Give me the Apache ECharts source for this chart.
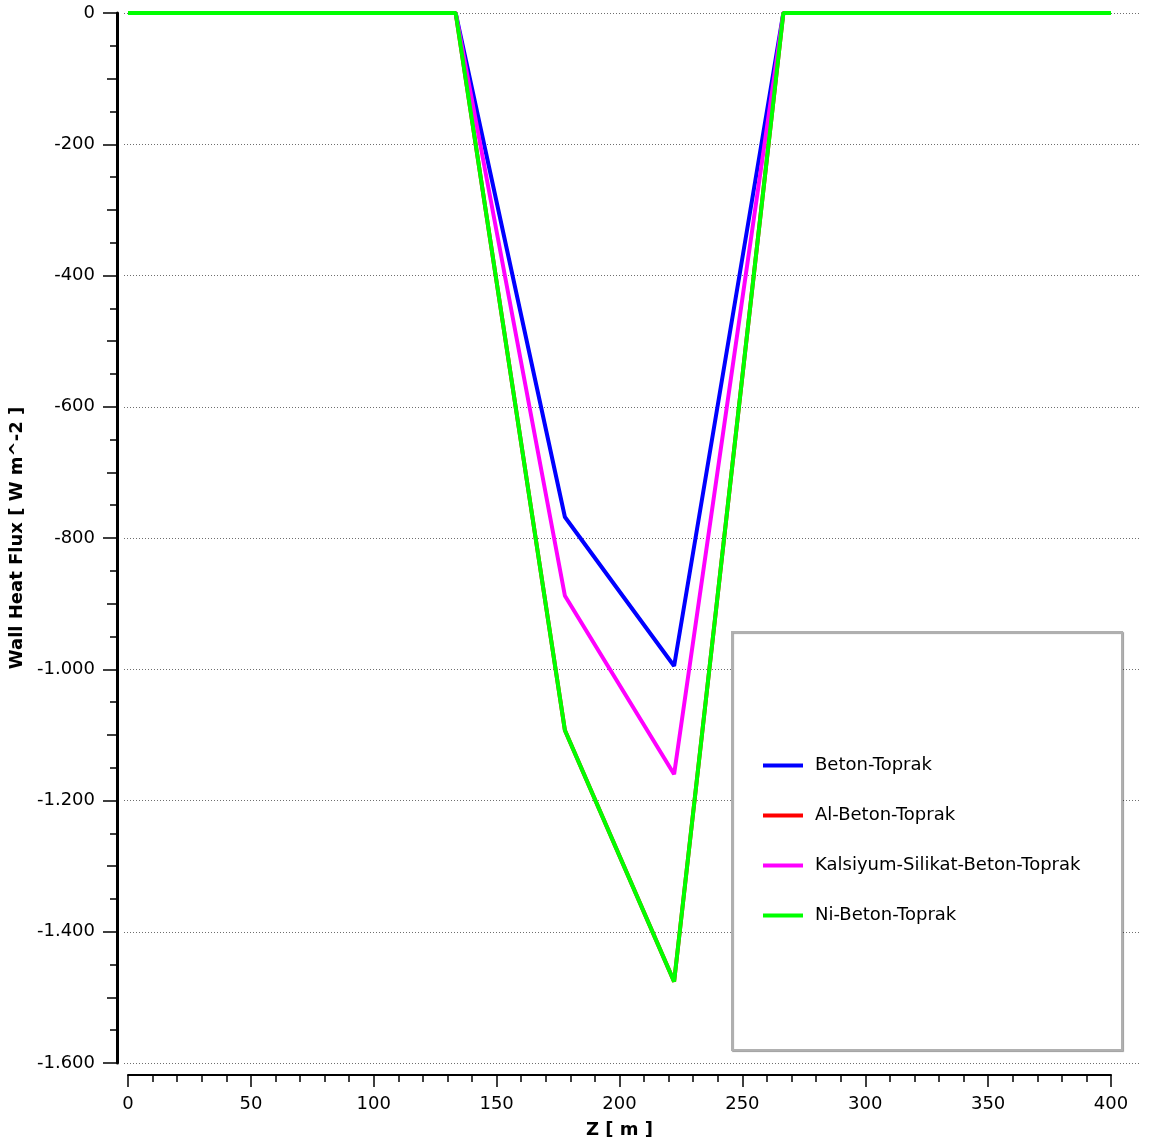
<!DOCTYPE html>
<html>
<head>
<meta charset="utf-8">
<title>Wall Heat Flux</title>
<script src="https://cdn.jsdelivr.net/npm/echarts@6/dist/echarts.min.js"></script>
<style>
  html, body { margin: 0; padding: 0; background: #ffffff; }
  #chart { width: 1154px; height: 1147px; }
</style>
</head>
<body>
<div id="chart"></div>
<script>
// Axial positions along the pipe (m)
const zPositions = [0, 44.44, 88.89, 133.33, 177.78, 222.22, 266.67, 311.11, 355.56, 400];

// Wall heat flux (W m^-2) for each wall build-up
const betonToprak = [0, 0, 0, 0, -768, -995, 0, 0, 0, 0];
const alBetonToprak = [0, 0, 0, 0, -1093, -1476, 0, 0, 0, 0];
const kalsiyumSilikatBetonToprak = [0, 0, 0, 0, -888, -1160, 0, 0, 0, 0];
const niBetonToprak = [0, 0, 0, 0, -1093, -1476, 0, 0, 0, 0];

const seriesNames = ['Beton-Toprak', 'Al-Beton-Toprak', 'Kalsiyum-Silikat-Beton-Toprak', 'Ni-Beton-Toprak'];
const seriesColors = ['#0000ff', '#ff0000', '#ff00ff', '#00ff00'];
const seriesValues = [betonToprak, alBetonToprak, kalsiyumSilikatBetonToprak, niBetonToprak];

const FONT = 'DejaVu Sans';

// Thousands separated with a dot, e.g. -1.600
function fmtThousands(v) {
  const s = Math.abs(v).toString().replace(/\B(?=(\d{3})+(?!\d))/g, '.');
  return (v < 0 ? '-' : '') + s;
}

const chart = echarts.init(document.getElementById('chart'), null, { renderer: 'canvas' });

const series = seriesNames.map((name, i) => ({
  name: name,
  type: 'line',
  xAxisIndex: 0,
  yAxisIndex: 0,
  data: zPositions.map((z, k) => [z, seriesValues[i][k]]),
  symbol: 'none',
  lineStyle: { color: seriesColors[i], width: 4 },
  itemStyle: { color: seriesColors[i] },
  z: 5 + i,
  animation: false
}));

const option = {
  animation: false,
  backgroundColor: '#ffffff',
  textStyle: { fontFamily: FONT },
  grid: [
    { left: 128, right: 43, top: 13, bottom: 84, containLabel: false },
    // wider band carrying the dotted horizontal guides
    { left: 124, right: 14, top: 13, bottom: 84, containLabel: false }
  ],
  xAxis: [
    {
      type: 'value', gridIndex: 0, min: 0, max: 400, interval: 50,
      position: 'bottom',
      offset: 12,
      name: 'Z [ m ]', nameLocation: 'middle', nameGap: 46,
      nameTextStyle: { fontFamily: FONT, fontSize: 18, fontWeight: 'bold', color: '#000' },
      axisLine: { show: true, onZero: false, lineStyle: { color: '#000', width: 2 } },
      axisTick: { show: true, length: 12, lineStyle: { color: '#000', width: 1.5 } },
      minorTick: { show: true, splitNumber: 5, length: 7, lineStyle: { color: '#000', width: 1.5 } },
      axisLabel: { fontFamily: FONT, fontSize: 18, color: '#000', margin: 20 },
      splitLine: { show: false }
    },
    {
      type: 'value', gridIndex: 1, min: 0, max: 1,
      axisLine: { show: false }, axisTick: { show: false }, axisLabel: { show: false },
      splitLine: { show: false }
    }
  ],
  yAxis: [
    {
      type: 'value', gridIndex: 0, min: -1600, max: 0, interval: 200,
      position: 'left',
      offset: 11,
      name: 'Wall Heat Flux [ W m^-2 ]', nameLocation: 'middle', nameGap: 84,
      nameTextStyle: { fontFamily: FONT, fontSize: 18, fontWeight: 'bold', color: '#000' },
      axisLine: { show: true, onZero: false, lineStyle: { color: '#000', width: 3 } },
      axisTick: { show: true, length: 14, lineStyle: { color: '#000', width: 1.5 } },
      minorTick: { show: true, splitNumber: 4, length: 7, lineStyle: { color: '#000', width: 1.5 } },
      axisLabel: { fontFamily: FONT, fontSize: 18, color: '#000', margin: 22, formatter: fmtThousands },
      splitLine: { show: false }
    },
    {
      // dotted guides every 200
      type: 'value', gridIndex: 1, min: -1600, max: 0, interval: 200,
      axisLine: { show: false }, axisTick: { show: false }, axisLabel: { show: false },
      splitLine: { show: true, lineStyle: { color: '#6e6e6e', width: 1, type: [1, 2] } }
    },
    {
      // medium-length ticks every 100
      type: 'value', gridIndex: 0, min: -1600, max: 0, interval: 100,
      position: 'left',
      offset: 11,
      axisLine: { show: false, onZero: false },
      axisTick: { show: true, length: 10, lineStyle: { color: '#000', width: 1.5 } },
      axisLabel: { show: false },
      splitLine: { show: false }
    }
  ],
  legend: {
    orient: 'vertical',
    left: 763,
    top: 755,
    padding: 0,
    itemWidth: 40,
    itemHeight: 4,
    itemGap: 29,
    icon: 'rect',
    z: 20,
    data: seriesNames,
    textStyle: { fontFamily: FONT, fontSize: 18, color: '#000', lineHeight: 21, padding: [0, 0, 0, 7] }
  },
  graphic: [
    {
      type: 'rect',
      z: 15,
      shape: { x: 732, y: 632, width: 390, height: 418 },
      style: {
        fill: '#ffffff',
        stroke: '#b0b0b0',
        lineWidth: 2,
        shadowColor: 'rgba(0,0,0,0.35)',
        shadowOffsetX: 1,
        shadowOffsetY: 1,
        shadowBlur: 1
      }
    }
  ],
  series: series
};

chart.setOption(option);
</script>
</body>
</html>
